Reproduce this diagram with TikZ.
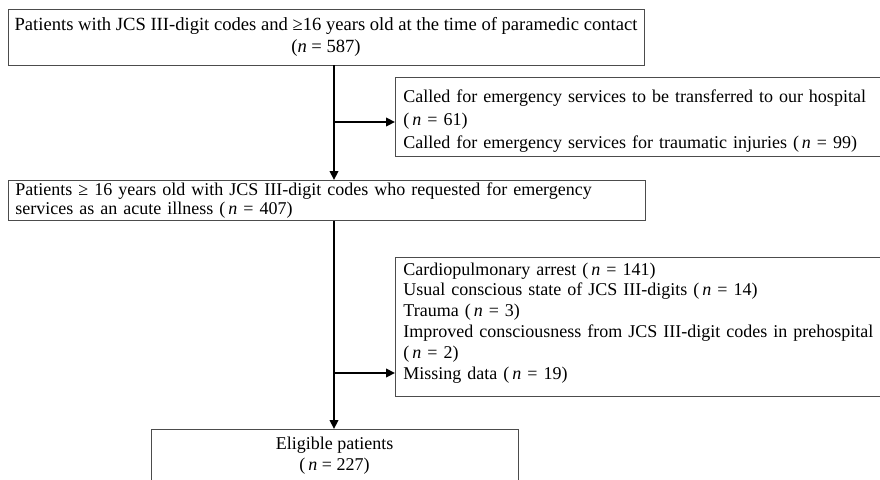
\documentclass[tikz,border=0pt]{standalone}
\usepackage{fontspec}
\setmainfont{Liberation Serif}
\usetikzlibrary{arrows.meta}
\begin{document}
\begin{tikzpicture}[x=1pt,y=-1pt,
  box/.style={draw=black!70,line width=0.9pt,inner sep=0pt},
  flow/.style={line width=2.6pt,-{Triangle[length=9pt,width=8.5pt]}},
  ]
\useasboundingbox (0,0) rectangle (880,479);
\clip (0,0) rectangle (880,479);
\fill[white] (0,0) rectangle (880,479);

\node[box, minimum width=636, minimum height=56, align=center,
      font=\fontsize{18.6}{22}\selectfont] (top) at (326,37)
  {Patients with JCS III-digit codes and ≥16 years old at the time of paramedic contact\\(\textit{n} = 587)};

\node[box, anchor=north west, minimum width=520, minimum height=79, text width=504,
      inner xsep=8pt, align=left, font=\fontsize{18}{23}\selectfont] (ex1) at (395,77)
  {\rule{0pt}{20pt}Called for emergency services to be transferred to our hospital\\(\,\textit{n} = 61)\\Called for emergency services for traumatic injuries (\,\textit{n} = 99)};

\node[box, anchor=north west, minimum width=637, minimum height=40, text width=623,
      inner xsep=7pt, align=left, font=\fontsize{18}{19.5}\selectfont] (mid) at (8,180)
  {Patients ≥ 16 years old with JCS III-digit codes who requested for emergency\\services as an acute illness (\,\textit{n} = 407)};

\node[box, anchor=north west, minimum width=520, minimum height=139, text width=504,
      inner xsep=8pt, align=left, font=\fontsize{18}{20.8}\selectfont] (ex2) at (395,257)
  {Cardiopulmonary arrest (\,\textit{n} = 141)\\Usual conscious state of JCS III-digits (\,\textit{n} = 14)\\Trauma (\,\textit{n} = 3)\\Improved consciousness from JCS III-digit codes in prehospital\\(\,\textit{n} = 2)\\Missing data (\,\textit{n} = 19)\rule[-12pt]{0pt}{0pt}};

\node[box, anchor=north, minimum width=367, inner ysep=8pt, align=center,
      font=\fontsize{18}{21}\selectfont] (elig) at (334.5,429)
  {Eligible patients\\(\,\textit{n} = 227)\rule[-30pt]{0pt}{0pt}};

\coordinate (j1) at (334,122);
\coordinate (j2) at (334,373);
\draw[flow] (top.south -| j1) -- (mid.north -| j1);
\draw[flow] (j1) -- (j1 -| ex1.west);
\draw[flow] (mid.south -| j2) -- (elig.north -| j2);
\draw[flow] (j2) -- (j2 -| ex2.west);
\end{tikzpicture}
\end{document}
